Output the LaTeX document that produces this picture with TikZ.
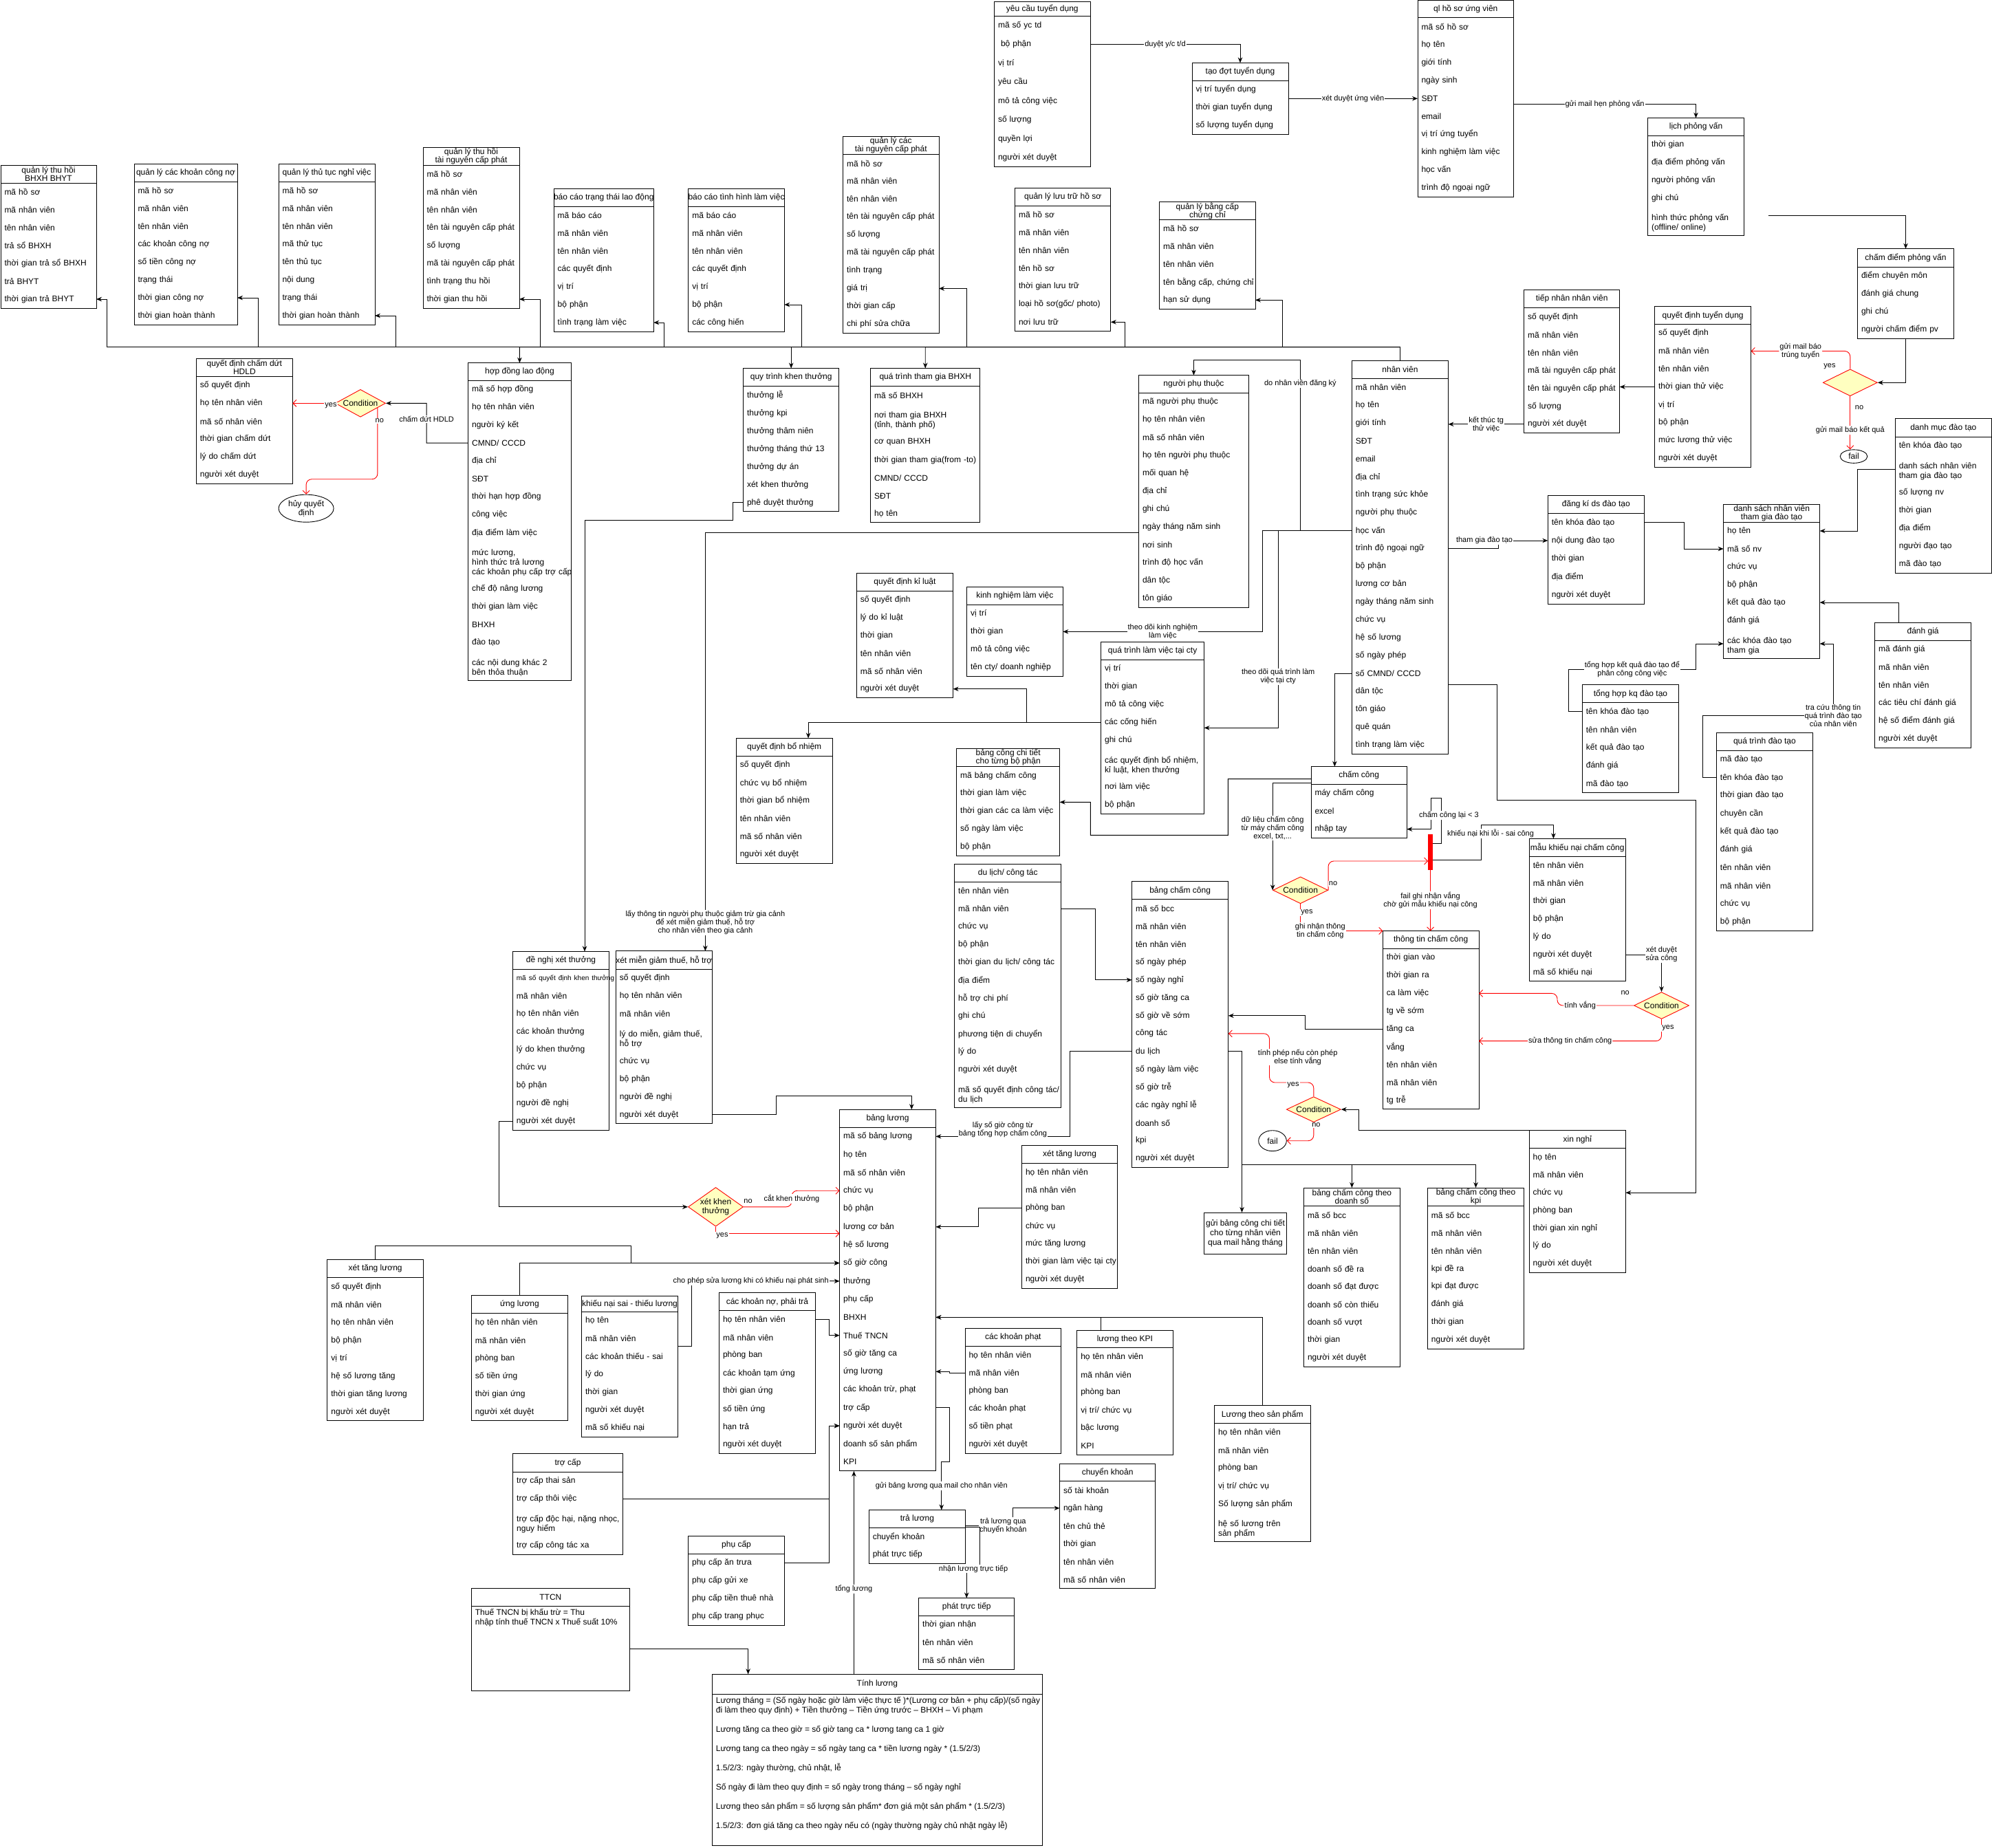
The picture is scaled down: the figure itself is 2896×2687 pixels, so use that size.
\documentclass[tikz,border=0pt]{standalone}
\usepackage{fontspec}
\setmainfont{Liberation Sans}
\usetikzlibrary{arrows.meta, shapes.geometric, fit}
\definecolor{condfill}{HTML}{FFFFC0}

\tikzset{
  etitle/.style={inner sep=0pt, outer sep=0pt, align=center, font=\fontsize{12}{12}\selectfont},
  erow/.style={inner xsep=5.5pt, inner ysep=3pt, outer sep=0pt, align=left, font=\fontsize{12}{14}\selectfont},
  ebox/.style={draw, line width=1pt},
  arr/.style={draw, line width=0.9pt, -{Stealth[length=8pt,width=6.5pt]}},
  redarr/.style={draw=red, line width=0.9pt, -{Straight Barb[length=5pt,width=10pt]}},
  lbl/.style={fill=white, inner sep=1pt, align=center, font=\fontsize{11}{12}\selectfont},
  cond/.style={diamond, draw=red, fill=condfill, line width=0.9pt, inner sep=0pt, aspect=2, align=center, font=\fontsize{12}{13}\selectfont},
  endnode/.style={ellipse, draw, line width=0.9pt, inner sep=0pt, align=center, font=\fontsize{12}{13}\selectfont}
}

\newcommand{\mline}[1]{\begin{tabular}{@{}l@{}}\rule{0pt}{17pt}#1\rule[-5pt]{0pt}{0pt}\end{tabular}}

\newcommand{\entitybox}[8]{%
  \node[etitle, minimum width=#4pt, minimum height=#5pt, anchor=north west] (#1-0) at (#2,#3) {#7};
  \pgfmathsetmacro{\tw}{#4-11}
  \foreach \r [count=\i] in {#8} {
    \pgfmathtruncatemacro{\j}{\i-1}
    \node[erow, text width=\tw pt, minimum height=#6pt, anchor=north] (#1-\i) at (#1-\j.south) {\noindent\mbox{\r}};
    \xdef\nlast{\i}
  }
  \draw[ebox] (#1-0.north west) rectangle (#1-\nlast.south east);
  \draw[ebox] (#1-0.south west) -- (#1-0.south east);
  \node[fit=(#1-0)(#1-\nlast), inner sep=0pt, outer sep=0pt] (#1) {};
}

\begin{document}
\begin{tikzpicture}[x=1pt, y=-1pt]
\useasboundingbox (0,0) rectangle (2896,2687);

\entitybox{bhyt}{1}{240}{139}{26}{26}{quản lý thu hồi\\BHXH BHYT}{mã hồ sơ, mã nhân viên, tên nhân viên, trả sổ BHXH, thời gian trả sổ BHXH, trả BHYT, thời gian trả BHYT}
\entitybox{congno}{195}{238}{150}{26}{26}{quản lý các khoản công nợ}{mã hồ sơ, mã nhân viên, tên nhân viên, các khoản công nợ, số tiền công nợ, trạng thái, thời gian công nợ, thời gian hoàn thành}
\entitybox{nghiviec}{405}{238}{140}{26}{26}{quản lý thủ tục nghỉ việc}{mã hồ sơ, mã nhân viên, tên nhân viên, mã thử tục, tên thủ tục, nội dung, trạng thái, thời gian hoàn thành}
\entitybox{thuhoi}{615}{214}{140}{26}{26}{quản lý thu hồi\\tài nguyên cấp phát}{mã hồ sơ, mã nhân viên, tên nhân viên, tên tài nguyên cấp phát, số lượng, mã tài nguyên cấp phát, tình trạng thu hồi, thời gian thu hồi}
\entitybox{bctt}{805}{274}{145}{26}{26}{báo cáo trạng thái lao động}{mã báo cáo, mã nhân viên, tên nhân viên, các quyết định, vị trí, bộ phận, tình trạng làm việc}
\entitybox{bcth}{1000.5}{274}{139.5}{26}{26}{báo cáo tình hình làm việc}{mã báo cáo, mã nhân viên, tên nhân viên, các quyết định, vị trí, bộ phận, các công hiến}
\entitybox{capphat}{1225.5}{198.5}{139.5}{26}{26}{quản lý các\\tài nguyên cấp phát}{mã hồ sơ, mã nhân viên, tên nhân viên, tên tài nguyên cấp phát, số lượng, mã tài nguyên cấp phát, tình trạng, giá trị, thời gian cấp, chi phí sửa chữa}
\entitybox{yctd}{1445.5}{3}{139.5}{20.6}{27.4}{yêu cầu tuyển dụng}{mã số yc td, {\ bộ phận}, vị trí, yêu cầu, mô tả công việc, số lượng, quyền lợi, người xét duyệt}
\entitybox{taodot}{1733}{91.4}{140}{25.7}{26}{tạo đợt tuyển dụng}{vị trí tuyển dụng, thời gian tuyển dụng, số lượng tuyển dụng}
\entitybox{hsuv}{2061}{1}{139.5}{25}{26}{ql hồ sơ ứng viên}{mã số hồ sơ, họ tên, giới tính, ngày sinh, SĐT, email, vị trí ứng tuyển, kinh nghiệm làm việc, học vấn, trình độ ngoại ngữ}
\entitybox{lichpv}{2395.5}{171.6}{140}{26}{25.8}{lịch phỏng vấn}{thời gian, địa điểm phỏng vấn, người phỏng vấn, ghi chú, {\mline{hình thức phỏng vấn\\(offline/ online)}}}
\entitybox{chamdiem}{2700.5}{361.7}{140}{26.3}{26}{chấm điểm phỏng vấn}{điểm chuyên môn, đánh giá chung, ghi chú, người chấm điểm pv}
\entitybox{qdtd}{2405.6}{445.5}{140}{26}{26}{quyết định tuyển dụng}{số quyết định, mã nhân viên, tên nhân viên, thời gian thử việc, vị trí, bộ phận, mức lương thử việc, người xét duyệt}
\entitybox{tiepnhan}{2215.7}{421.4}{139}{26.4}{26}{tiếp nhân nhân viên}{số quyết định, mã nhân viên, tên nhân viên, mã tài nguyên cấp phát, tên tài nguyên cấp phát, số lượng, người xét duyệt}
\entitybox{luutru}{1475.5}{273.2}{139.3}{26.1}{26}{quản lý lưu trữ hồ sơ}{mã hồ sơ, mã nhân viên, tên nhân viên, tên hồ sơ, thời gian lưu trữ, loại hồ sơ(gốc/ photo), nơi lưu trữ}
\entitybox{bangcap}{1685.7}{293.2}{139.3}{26.1}{26}{quản lý bằng cấp\\chứng chỉ}{mã hồ sơ, mã nhân viên, tên nhân viên, {tên bằng cấp, chứng chỉ}, hạn sử dụng}
\entitybox{dmdt}{2755.3}{608.5}{140}{26.5}{26}{danh mục đào tạo}{tên khóa đào tạo, {\mline{danh sách nhân viên\\ tham gia đào tạo}}, số lượng nv, thời gian, địa điểm, người đạo tạo, mã đào tạo}
\entitybox{dangki}{2250.3}{720.4}{140}{26}{26.4}{đăng kí ds đào tạo}{tên khóa đào tạo, nội dung đào tạo, thời gian, địa điểm, người xét duyệt}
\entitybox{dsnv}{2505.6}{733.6}{140}{25.4}{26}{danh sách nhân viên\\tham gia đào tạo}{họ tên, mã số nv, chức vụ, bộ phận, kết quả đào tạo, đánh giá, {\mline{các khóa đào tạo\\ tham gia}}}
\entitybox{danhgia}{2725.6}{905.1}{140}{26.2}{26}{đánh giá}{mã đánh giá, mã nhân viên, tên nhân viên, các tiêu chí đánh giá, hệ số điểm đánh giá, người xét duyệt}
\entitybox{tonghop}{2300.3}{995.6}{140.4}{26.1}{26.2}{tổng hợp kq đào tạo}{tên khóa đào tạo, tên nhân viên, kết quả đào tạo, đánh giá, mã đào tạo}
\entitybox{qtdt}{2495.4}{1065.7}{140}{25.6}{26.2}{quá trình đào tạo}{mã đào tạo, tên khóa đào tạo, thời gian đào tạo, chuyên cần, kết quả đào tạo, đánh giá, tên nhân viên, mã nhân viên, chức vụ, bộ phận}
\entitybox{maukn}{2223.3}{1219.4}{139.8}{26.2}{25.9}{mẫu khiếu nại chấm công}{tên nhân viên, mã nhân viên, thời gian, bộ phận, lý do, người xét duyệt, mã số khiếu nại}
\entitybox{ttcc}{2010.3}{1353.5}{139.7}{26.1}{25.9}{thông tin chấm công}{thời gian vào, thời gian ra, ca làm việc, tg về sớm, tăng ca, vắng, tên nhân viên, mã nhân viên, tg trễ}
\entitybox{xinnghi}{2223.2}{1643.7}{140.2}{26}{25.8}{xin nghỉ}{họ tên, mã nhân viên, chức vụ, phòng ban, thời gian xin nghỉ, lý do, người xét duyệt}
\entitybox{bccds}{1895.5}{1727}{139.8}{26.7}{26}{bảng chấm công theo\\doanh số}{mã số bcc, mã nhân viên, tên nhân viên, doanh số đề ra, doanh số đạt được, doanh số còn thiếu, doanh số vượt, thời gian, người xét duyệt}
\entitybox{bcckpi}{2075.4}{1727}{140.2}{26.7}{26}{bảng chấm công theo\\kpi}{mã số bcc, mã nhân viên, tên nhân viên, kpi đề ra, kpi đạt được, đánh giá, thời gian, người xét duyệt}
\entitybox{lsp}{1765.5}{2043.8}{139.5}{26}{26}{Lương theo sản phẩm}{họ tên nhân viên, mã nhân viên, phòng ban, vị trí/ chức vụ, Số lượng sản phẩm, {\mline{hệ số lương trên\\ sản phẩm}}}
\entitybox{bcc}{1645.6}{1281.8}{140.1}{26}{26}{bảng chấm công}{mã số bcc, mã nhân viên, tên nhân viên, số ngày phép, số ngày nghỉ, số giờ tăng ca, số giờ về sớm, công tác, du lịch, số ngày làm việc, số giờ trễ, các ngày nghỉ lễ, doanh số, kpi, người xét duyệt}
\entitybox{chamcong}{1906}{1114.6}{139.3}{26}{26}{chấm công}{máy chấm công, excel, nhập tay}
\entitybox{nhanvien}{1965.4}{524.3}{140.1}{26.1}{26}{nhân viên}{mã nhân viên, họ tên, giới tính, SĐT, email, địa chỉ, tình trạng sức khỏe, người phụ thuộc, học vấn, trình độ ngoại ngữ, bộ phận, lương cơ bản, ngày tháng năm sinh, chức vụ, hệ số lương, số ngày phép, số CMND/ CCCD, dân tộc, tôn giáo, quê quán, tình trạng làm việc}
\entitybox{npt}{1655.5}{545.6}{159.9}{25.6}{26}{người phụ thuộc}{mã người phụ thuộc, họ tên nhân viên, mã số nhân viên, họ tên người phụ thuộc, mối quan hệ, địa chỉ, ghi chú, ngày tháng năm sinh, nơi sinh, trình độ học vấn, dân tộc, tôn giáo}
\entitybox{qtlv}{1600.6}{933.3}{150}{26}{26}{quá trình làm việc tại cty}{vị trí, thời gian, mô tả công việc, các cống hiến, ghi chú, {\mline{các quyết định bổ nhiệm,\\kỉ luật, khen thưởng}}, nơi làm việc, bộ phận}
\entitybox{kinhnghiem}{1405.5}{853.6}{139.8}{25.8}{26}{kinh nghiệm làm việc}{vị trí, thời gian, mô tả công việc, tên cty/ doanh nghiệp}
\entitybox{kyluat}{1245.3}{833.5}{140.3}{25.8}{25.9}{quyết định kỉ luật}{số quyết định, lý do kỉ luật, thời gian, tên nhân viên, mã số nhân viên, người xét duyệt}
\entitybox{bonhiem}{1070.3}{1073.4}{139.8}{25.9}{26}{quyết định bổ nhiệm}{số quyết định, chức vụ bổ nhiệm, thời gian bổ nhiệm, tên nhân viên, mã số nhân viên, người xét duyệt}
\entitybox{bcct}{1390.7}{1088.4}{150}{26.4}{25.9}{bảng công chi tiết\\cho từng bộ phận}{mã bảng chấm công, thời gian làm việc, thời gian các ca làm việc, số ngày làm việc, bộ phận}
\entitybox{dulich}{1387.7}{1256.6}{155.1}{25.8}{26}{du lịch/ công tác}{tên nhân viên, mã nhân viên, chức vụ, bộ phận, thời gian du lịch/ công tác, địa điểm, hỗ trợ chi phí, ghi chú, phương tiện di chuyển, lý do, người xét duyệt, {\mline{mã số quyết định công tác/\\du lịch}}}
\entitybox{hopdong}{680.6}{527.7}{149.6}{25.4}{26}{hợp đồng lao động}{mã số hợp đồng, họ tên nhân viên, người ký kết, CMND/ CCCD, địa chỉ, SĐT, thời hạn hợp đồng, công việc, địa điểm làm việc, {\mline{mức lương,\\hình thức trả lương\\các khoản phụ cấp trợ cấp}}, chế độ nâng lương, thời gian làm việc, BHXH, đào tạo, {\mline{các nội dung khác 2\\bên thỏa thuận}}}
\entitybox{khenthuong}{1080.5}{535.5}{139.4}{26.4}{26}{quy trình khen thưởng}{thưởng lễ, thưởng kpi, thưởng thâm niên, thưởng tháng thứ 13, thưởng dự án, xét khen thưởng, phê duyệt thưởng}
\entitybox{qtbhxh}{1265.6}{535.5}{159.3}{26.4}{26}{quá trình tham gia BHXH}{mã số BHXH, {\mline{nơi tham gia BHXH\\(tỉnh, thành phố)}}, cơ quan BHXH, thời gian tham gia(from -to), CMND/ CCCD, SĐT, họ tên}
\entitybox{chamdut}{285.4}{521.2}{139.9}{26.3}{26}{quyết định chấm dứt\\HDLD}{số quyết định, họ tên nhân viên, mã số nhân viên, thời gian chấm dứt, lý do chấm dứt, người xét duyệt}
\entitybox{denghi}{745.4}{1383.5}{140.2}{25.8}{26}{đề nghị xét thưởng}{{{\fontsize{10}{12}\selectfont mã số quyết định khen thưởng}}, mã nhân viên, họ tên nhân viên, các khoản thưởng, lý do khen thưởng, chức vụ, bộ phận, người đề nghị, người xét duyệt}
\entitybox{xmg}{895.3}{1382.8}{139.8}{26.5}{26}{xét miễn giảm thuế, hỗ trợ}{số quyết định, họ tên nhân viên, mã nhân viên, {\mline{lý do miễn, giảm thuế,\\ hỗ trợ}}, chức vụ, bộ phận, người đề nghị, người xét duyệt}
\entitybox{bangluong}{1220.6}{1613.2}{139.8}{26}{26.3}{bảng lương}{mã số bảng lương, họ tên, mã số nhân viên, chức vụ, bộ phận, lương cơ bản, hệ số lương, số giờ công, thưởng, phụ cấp, BHXH, Thuế TNCN, số giờ tăng ca, ứng lương, {các khoản trừ, phạt}, trợ cấp, người xét duyệt, doanh số sản phẩm, KPI}
\entitybox{xtl2}{1485.5}{1665.7}{139.2}{25.9}{26}{xét tăng lương}{họ tên nhân viên, mã nhân viên, phòng ban, chức vụ, mức tăng lương, thời gian làm việc tại cty, người xét duyệt}
\entitybox{khoanphat}{1403}{1931.7}{139.7}{25.9}{26}{các khoản phạt}{họ tên nhân viên, mã nhân viên, phòng ban, các khoản phạt, số tiền phạt, người xét duyệt}
\entitybox{luongkpi}{1565.8}{1934.5}{139.2}{25.2}{26}{lương theo KPI}{họ tên nhân viên, mã nhân viên, phòng ban, vị trí/ chức vụ, bậc lương, KPI}
\entitybox{chuyenkhoan}{1540.5}{2128}{139.2}{25.8}{26}{chuyển khoản}{số tài khoản, ngân hàng, tên chủ thẻ, thời gian, tên nhân viên, mã số nhân viên}
\entitybox{traluong}{1263.3}{2195.5}{140.3}{25.9}{26}{trả lương}{chuyển khoản, phát trực tiếp}
\entitybox{phattt}{1335.7}{2323.5}{139.1}{25.9}{26}{phát trực tiếp}{thời gian nhận, tên nhân viên, mã số nhân viên}
\entitybox{khoanno}{1045.5}{1879.9}{139.8}{25.9}{26}{các khoản nợ, phải trả}{họ tên nhân viên, mã nhân viên, phòng ban, các khoản tạm ứng, thời gian ứng, số tiền ứng, hạn trả, người xét duyệt}
\entitybox{khieunai}{845.6}{1884.2}{139.9}{23}{26}{khiếu nại sai - thiếu lương}{họ tên, mã nhân viên, các khoản thiếu - sai, lý do, thời gian, người xét duyệt, mã số khiếu nại}
\entitybox{xtl1}{475.9}{1831.5}{139.5}{26.4}{26}{xét tăng lương}{số quyết định, mã nhân viên, họ tên nhân viên, bộ phận, vị trí, hệ số lương tăng, thời gian tăng lương, người xét duyệt}
\entitybox{ungluong}{685.4}{1883.5}{140.1}{26.4}{26}{ứng lương}{họ tên nhân viên, mã nhân viên, phòng ban, số tiền ứng, thời gian ứng, người xét duyệt}
\entitybox{trocap}{745.7}{2113.7}{159.6}{26.3}{26}{trợ cấp}{trợ cấp thai sản, trợ cấp thôi việc, {\mline{trợ cấp độc hại, nặng nhọc,\\ nguy hiểm}}, trợ cấp công tác xa}
\entitybox{phucap}{1000.6}{2233.6}{139.8}{26}{26}{phụ cấp}{phụ cấp ăn trưa, phụ cấp gửi xe, phụ cấp tiền thuê nhà, phụ cấp trang phục}

\node[etitle, minimum width=230pt, minimum height=25.6pt, anchor=north west] (ttcn-0) at (685.4,2309.9) {TTCN};
\node[anchor=north, inner xsep=5.5pt, inner ysep=4pt, outer sep=0pt, font=\fontsize{12}{14}\selectfont] (ttcn-1) at (ttcn-0.south) {\parbox[c][115.4pt][t]{219pt}{Thuế TNCN bị khấu trừ = Thu\\nhập tính thuế TNCN x Thuế suất 10\%}};
\draw[ebox] (ttcn-0.north west) rectangle (ttcn-1.south east);
\draw[ebox] (ttcn-0.south west) -- (ttcn-0.south east);

\node[etitle, minimum width=479.8pt, minimum height=28.8pt, anchor=north west] (tinhluong-0) at (1035.4,2434.2) {Tính lương};
\node[anchor=north, inner xsep=5.5pt, inner ysep=4pt, outer sep=0pt, font=\fontsize{12}{14}\selectfont] (tinhluong-1) at (tinhluong-0.south) {\parbox[c][212pt][t]{468.8pt}{%
\mbox{Lương tháng = (Số ngày hoặc giờ làm việc thực tế )*(Lương cơ bản + phụ cấp)/(số ngày}\\
\mbox{đi làm theo quy định) + Tiền thưởng – Tiền ứng trước – BHXH – Vi phạm}\\[14pt]
\mbox{Lương tăng ca theo giờ = số giờ tang ca * lương tang ca 1 giờ}\\[14pt]
\mbox{Lương tang ca theo ngày = số ngày tang ca * tiền lương ngày * (1.5/2/3)}\\[14pt]
\mbox{1.5/2/3: ngày thường, chủ nhật, lễ}\\[14pt]
\mbox{Số ngày đi làm theo quy định = số ngày trong tháng – số ngày nghỉ}\\[14pt]
\mbox{Lương theo sản phẩm = số lượng sản phẩm* đơn giá một sản phẩm * (1.5/2/3)}\\[14pt]
\mbox{1.5/2/3: đơn giá tăng ca theo ngày nếu có (ngày thường ngày chủ nhật ngày lễ)}}};
\draw[ebox] (tinhluong-0.north west) rectangle (tinhluong-1.south east);
\draw[ebox] (tinhluong-0.south west) -- (tinhluong-0.south east);

\node[draw, line width=1pt, align=center, inner sep=0pt, minimum width=120pt, minimum height=60pt, font=\fontsize{12}{14}\selectfont] (guibc) at (1810.5,1793.4) {gửi bảng công chi tiết\\cho từng nhân viên\\qua mail hằng tháng};

\node[cond, minimum width=79pt, minimum height=39pt] (cond1) at (2689.8,556.3) {};
\node[cond, minimum width=80pt, minimum height=39pt] (cond2) at (1890.6,1294.3) {Condition};
\node[cond, minimum width=80pt, minimum height=39pt] (cond3) at (2415.5,1462) {Condition};
\node[cond, minimum width=79pt, minimum height=37pt] (cond4) at (1909.8,1613.1) {Condition};
\node[cond, minimum width=73pt, minimum height=40pt] (cond5) at (524,586.3) {Condition};
\node[cond, aspect=1.4, minimum width=80pt, minimum height=55pt] (xkt) at (1040.5,1754.8) {xét khen\\thưởng};
\node[endnode, minimum width=39.6pt, minimum height=19.5pt] (fail1) at (2695,663.6) {fail};
\node[endnode, minimum width=40.6pt, minimum height=30pt] (fail2) at (1850,1658.7) {fail};
\node[endnode, minimum width=80pt, minimum height=40pt] (huy) at (445.1,739.2) {hủy quyết\\định};
\node[fill=red, inner sep=0pt, minimum width=6.3pt, minimum height=52pt] (redbar) at (2079.5,1239) {};
\coordinate (pvout) at (2570.6,313.4);

\draw[arr] (yctd-2.east) -| node[lbl, pos=0.25] {duyệt y/c t/d} (taodot-0.north);
\draw[arr] (taodot.east) -- node[lbl] {xét duyệt ứng viên} (taodot.east -| hsuv.west);
\draw[arr] ([yshift=-8pt]hsuv.east) -| node[lbl, pos=0.25] {gửi mail hẹn phỏng vấn} (lichpv-0.north);
\draw[arr] (pvout) -| (chamdiem-0.north);
\draw[arr] (chamdiem.south) |- (cond1.east);
\draw[redarr, rounded corners=8pt] (cond1.north) |- node[lbl, pos=0.75] {gửi mail báo\\trúng tuyển} (qdtd-2.east);
\draw[redarr] (cond1.south) -- node[lbl, pos=0.64] {gửi mail báo kết quả} (cond1.south |- fail1.north);
\node[lbl] (lyes1) at (2660,533) {yes};
\node[lbl] (lno1) at (2703,593) {no};
\draw[arr] (qdtd-4.west) -- (qdtd-4.west -| tiepnhan.east);
\draw[arr] (tiepnhan-7.west) -- node[lbl] {kết thúc tg\\thử việc} (tiepnhan-7.west -| nhanvien.east);

\foreach \bx/\tg in {155.6/bhyt-7, 375.4/congno-7, 575.3/nghiviec-8, 785.4/thuhoi-8, 965.5/bctt-7, 1165.4/bcth-6, 1405.5/capphat-8, 1635.2/luutru-7, 1864.8/bangcap-5}
  \draw[arr] (nhanvien.north) |- (\bx,504.6) |- (\tg.east);
\foreach \bx/\tg in {755.4/hopdong, 1150.2/khenthuong, 1345.2/qtbhxh}
  \draw[arr] (nhanvien.north) |- (\bx,504.6) -- (\tg-0.north);

\draw[arr] (hopdong-4.west) -- (620.1,644.1) |- node[lbl, pos=0.3] {chấm dứt HDLD} (cond5.east);
\draw[redarr] (cond5.west) -- (cond5.west -| chamdut.east);
\draw[redarr, rounded corners=8pt] (cond5.-15) |- ([yshift=22pt]huy.north) -- (huy.north);
\node[lbl] (lyes5) at (481,589.6) {yes};
\node[lbl] (lno5) at (551.8,611.7) {no};
\draw[arr] (khenthuong-7.west) -| (1065.7,756.2) -| ([xshift=34.5pt]denghi-0.north);

\draw[arr] (nhanvien-9.west) -| node[lbl, pos=0.93] {do nhân viên đăng ký} (1890.4,523) -| (npt-0.north);
\draw[arr] ([yshift=-8pt]npt-8.west) -| node[lbl, pos=0.966] {lấy thông tin người phụ thuộc giảm trừ gia cảnh\\để xét miễn giảm thuế, hỗ trợ\\cho nhân viên theo gia cảnh} ([xshift=60.1pt]xmg-0.north);
\draw[arr] (nhanvien-9.west) -| (1835.4,918.4) -- node[lbl] {theo dõi kinh nghiệm\\làm việc} (kinhnghiem-2.east);
\draw[arr] (nhanvien-9.west) -| node[lbl, pos=0.87] {theo dõi quá trình làm\\việc tại cty} ([xshift=107.6pt]qtlv.east) -- (qtlv.east);
\draw[arr] (qtlv-4.west) -| ([xshift=34.9pt]bonhiem-0.north);
\draw[arr] (qtlv-4.west) -| ([xshift=107.2pt]kyluat-6.east) -- (kyluat-6.east);
\draw[arr] (nhanvien-17.west) -| ([xshift=-35.3pt]chamcong-0.north);
\draw[arr] ([yshift=-5pt]chamcong-0.west) -| (1785.4,1214.3) -| (1585.4,1166.4) -- (bcct.east);
\draw[arr] ([yshift=-11pt]chamcong-0.west) -| node[lbl, pos=0.71] {dữ liệu chấm công\\từ máy chấm công\\excel, txt,...} (cond2.west);
\draw[redarr, rounded corners=8pt] (cond2.east) |- ([yshift=-13pt]redbar.west);
\node[lbl] (lno2) at (1938,1285) {no};
\draw[redarr] (cond2.south) |- node[lbl, pos=0.62] {ghi nhận thông\\tin chấm công} (ttcc-0.north west);
\node[lbl] (lyes2) at (1900,1327) {yes};
\draw[redarr] (redbar.south) -- node[lbl] {fail ghi nhận vắng\\chờ gửi mẫu khiếu nại công} (redbar.south |- ttcc-0.north);
\draw[arr] ([yshift=13pt]redbar.east) -| (2095,1160.6) -| (2080.5,1205.6) -- (chamcong-3.east);
\node[lbl] (llai) at (2106.4,1185.3) {chấm công lại < 3};
\draw[arr] ([yshift=-11.7pt]redbar.east) -| (2153.6,1199.6) -| ([xshift=-34.8pt]maukn-0.north);
\node[lbl] (lkn) at (2167,1212) {khiếu nại khi lỗi - sai công};
\draw[arr] (maukn-6.east) -| node[lbl] {xét duyệt\\sửa công} (cond3.north);
\draw[redarr, rounded corners=8pt] (cond3.west) -| node[lbl, pos=0.35] {tính vắng} (2264,1444.4) -- (ttcc-3.east);
\node[lbl] (lno3) at (2362.7,1443.3) {no};
\draw[redarr, rounded corners=8pt] (cond3.south) |- node[lbl, pos=0.75] {sửa thông tin chấm công} ([yshift=-17.5pt]ttcc-5.east);
\node[lbl] (lyes3) at (2425,1495) {yes};
\draw[arr] (ttcc-5.west) -| ([xshift=112.1pt]bcc-7.east) -- (bcc-7.east);
\draw[arr] (xinnghi-0.north west) -| ([xshift=25.6pt]cond4.east) -- (cond4.east);
\draw[redarr, rounded corners=8pt] (cond4.north) |- (1845.5,1574) |- (bcc-8.east);
\node[lbl] (lphep) at (1886.6,1537) {tính phép nếu còn phép\\else tính vắng};
\node[lbl] (lyes4) at (1880,1578) {yes};
\draw[redarr, rounded corners=8pt] (cond4.south) |- (fail2.east);
\node[lbl] (lno4) at (1913.4,1636) {no};
\draw[arr] ([yshift=10pt]nhanvien-18.east) -| (2176,1163.5) -| ([xshift=102pt]xinnghi-3.east) -- (xinnghi-3.east);

\draw[arr] (nhanvien-10.east) -| ([xshift=-72pt]dangki-2.west) -- (dangki-2.west);
\node[lbl] (ldt) at (2158,786) {tham gia đào tạo};
\draw[arr] (dangki-1.east) -| ([xshift=-57.4pt]dsnv-2.west) -- (dsnv-2.west);
\draw[arr] (dmdt-2.west) -| ([xshift=54.8pt]dsnv-1.east) -- (dsnv-1.east);
\draw[arr] ([xshift=-35.6pt]danhgia-0.north) |- (dsnv-5.east);
\draw[arr] (tonghop-1.west) -| (2280.4,973.6) -- node[lbl] {tổng hợp kết quả đào tạo để\\phân công công việc} (2465.4,973.6) |- (dsnv-7.west);
\draw[arr] (qtdt-2.west) -| (2475.4,1040.6) -- (2665.2,1040.6) node[lbl] {tra cứu thông tin\\quá trình đào tạo\\của nhân viên} |- (dsnv-7.east);

\draw[arr] (bcc-9.east) -| ([xshift=-5pt]guibc.north);
\draw[arr] (bcc-9.east) -| (1805.4,1693.2) -| (bccds-0.north);
\draw[arr] (bcc-9.east) -| (1805.4,1693.2) -| (bcckpi-0.north);
\draw[arr] (bcc-9.west) -| ([xshift=195.1pt]bangluong-1.east) -- node[lbl, yshift=10pt] {lấy số giờ công từ\\bảng tổng hợp chấm công} (bangluong-1.east);
\draw[arr] (dulich-2.east) -| ([xshift=-53.6pt]bcc-5.west) -- (bcc-5.west);

\draw[arr] (xmg-8.east) -| (1128,1593.5) -| ([xshift=34.8pt]bangluong-0.north);
\draw[arr] (denghi-9.west) -| ([xshift=-274.9pt]xkt.west) -- (xkt.west);
\draw[redarr, rounded corners=8pt] (xkt.east) -| node[lbl, pos=0.75] {cắt khen thưởng} ([xshift=-69.6pt]bangluong-4.west) -- (bangluong-4.west);
\node[lbl] (lnok) at (1087.6,1746.2) {no};
\draw[redarr] (xkt.south) |- ([yshift=-9.7pt]bangluong-6.west);
\node[lbl] (lyesk) at (1050,1796.5) {yes};
\draw[arr] (xtl1-0.north) |- (917.6,1811.5) |- (bangluong-8.west);
\draw[arr] (ungluong-0.north) |- (bangluong-8.west);
\draw[arr] ([yshift=-11pt]khieunai-2.east) -- ++(20.2,0) |- node[lbl, pos=0.7] {cho phép sửa lương khi có khiếu nại phát sinh} (bangluong-9.west);
\draw[arr] (khoanno-1.east) -| ([xshift=-15.6pt]bangluong-12.west) -- (bangluong-12.west);
\draw[arr] (trocap-2.east) -| ([xshift=-15.1pt]bangluong-17.west) -- (bangluong-17.west);
\draw[arr] (phucap-1.east) -| ([xshift=-15.1pt]bangluong-17.west) -- (bangluong-17.west);
\draw[arr] (xtl2-3.west) -| ([xshift=62pt]bangluong-6.east) -- (bangluong-6.east);
\draw[arr] (khoanphat-2.west) -| ([xshift=20.4pt]bangluong-14.east) -- (bangluong-14.east);
\draw[arr] ([xshift=-35.3pt]luongkpi-0.north) |- (bangluong-11.east);
\draw[arr] (lsp-0.north) |- (bangluong-11.east);
\draw[arr] (bangluong-16.east) -| (1380,2125.8) -| node[lbl, pos=0.75] {gửi bảng lương qua mail cho nhân viên} ([xshift=35.3pt]traluong-0.north);
\draw[arr] ([yshift=-10pt]traluong-0.east) -| node[lbl, pos=0.4] {trả lương qua\\chuyển khoản} ([xshift=-68.5pt]chuyenkhoan-2.west) -- (chuyenkhoan-2.west);
\draw[arr] ([yshift=-11.5pt]traluong-0.east) -| (1424.9,2281) -| node[lbl, pos=0.25] {nhận lương trực tiếp} (phattt-0.north);
\draw[arr] (ttcn-1.east) -| ([xshift=-187.7pt]tinhluong-0.north);
\coordinate (tlup) at ([xshift=-33.9pt]tinhluong-0.north);
\draw[arr] (tlup) -- node[lbl, pos=0.42] {tổng lương} (tlup |- bangluong.south);
\end{tikzpicture}
\end{document}
